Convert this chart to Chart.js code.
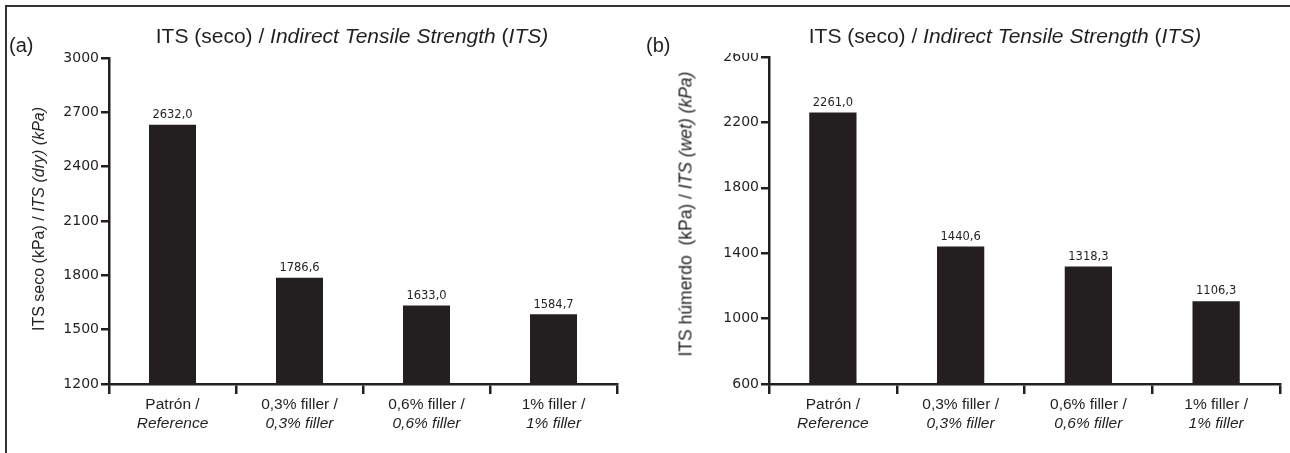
<!DOCTYPE html>
<html>
<head>
<meta charset="utf-8">
<script src="https://cdn.jsdelivr.net/npm/chart.js@4.4.0/dist/chart.umd.min.js"></script>
<style>
body{margin:0;background:#fff;width:1290px;height:453px;overflow:hidden;position:relative;font-family:"Liberation Sans",Arial,sans-serif;color:#231f20}
#frame{position:absolute;left:5px;top:5px;width:1300px;height:460px;border-top:2px solid #333;border-left:2px solid #333}
canvas{position:absolute;top:0}
.ttl{position:absolute;top:24px;font-size:21px;white-space:nowrap;transform:translateX(-50%)}
.tag{position:absolute;top:34px;font-size:20px}
.ytl{position:absolute;white-space:nowrap;transform:translate(-50%,-50%) rotate(-90deg)}
#cut{position:absolute;left:722px;top:44px;width:42px;height:9px;background:#fff}
</style>
</head>
<body>
<div id="frame"></div>
<canvas id="chartA" width="645" height="453" style="left:0"></canvas>
<canvas id="chartB" width="645" height="453" style="left:645px"></canvas>
<div id="cut"></div>

<div class="tag" style="left:9px">(a)</div>
<div class="tag" style="left:646px">(b)</div>
<div class="ttl" style="left:352px">ITS (seco) / <i>Indirect Tensile Strength</i> (<i>ITS)</i></div>
<div class="ttl" style="left:1005px">ITS (seco) / <i>Indirect Tensile Strength</i> (<i>ITS)</i></div>
<div class="ytl" style="left:39px;top:219px;font-size:16px">ITS seco (kPa) / <i>ITS (dry) (kPa)</i></div>
<div class="ytl" style="left:686px;top:214px;font-size:17.5px">ITS húmerdo&nbsp; (kPa) / <i>ITS (wet) (kPa)</i></div>

<script>
// datos
var catTop = ["Patrón /", "0,3% filler /", "0,6% filler /", "1% filler /"];
var catBottom = ["Reference", "0,3% filler", "0,6% filler", "1% filler"];
var itsDry = [2632.0, 1786.6, 1633.0, 1584.7];
var itsWet = [2261.0, 1440.6, 1318.3, 1106.3];
var dryTicks = [1200, 1500, 1800, 2100, 2400, 2700, 3000];
var wetTicks = [600, 1000, 1400, 1800, 2200, 2600];

var ink = '#231f20';

// etiquetas de valor y de categoria
var labelsPlugin = {
    id: 'labelsPlugin',
    afterDraw: function(chart) {
        var ctx = chart.ctx;
        var meta = chart.getDatasetMeta(0);
        var vals = chart.data.datasets[0].data;
        ctx.save();
        ctx.fillStyle = ink;
        ctx.textAlign = 'center';
        ctx.textBaseline = 'bottom';
        ctx.font = '11.5px "DejaVu Sans"';
        meta.data.forEach(function(bar, i) {
            ctx.fillText(vals[i].toFixed(1).replace('.', ','), bar.x, bar.y - 4);
        });
        var xs = chart.scales.x;
        ctx.textBaseline = 'middle';
        for (var i = 0; i < catTop.length; i++) {
            var x = xs.getPixelForValue(i);
            ctx.font = '15.5px "Liberation Sans", Arial';
            ctx.fillText(catTop[i], x, 405);
            ctx.font = 'italic 15.5px "Liberation Sans", Arial';
            ctx.fillText(catBottom[i], x, 424);
        }
        ctx.restore();
    }
};

function makeChart(id, values, ticks, yWidth, padTop, padRight) {
    var ctx = document.getElementById(id).getContext('2d');
    return new Chart(ctx, {
        type: 'bar',
        data: {
            labels: catTop,
            datasets: [{
                data: values,
                backgroundColor: ink,
                borderWidth: 0,
                barPercentage: 0.37,
                categoryPercentage: 1
            }]
        },
        options: {
            responsive: false,
            animation: false,
            layout: { padding: { left: 0, right: padRight, top: padTop, bottom: 59 } },
            plugins: { legend: { display: false }, tooltip: { enabled: false } },
            scales: {
                x: {
                    grid: { offset: true, drawOnChartArea: false, tickLength: 10, lineWidth: 2.5, color: ink },
                    border: { color: ink, width: 2.5 },
                    ticks: { display: false },
                    afterFit: function(s) { s.height = 10; }
                },
                y: {
                    min: ticks[0],
                    max: ticks[ticks.length - 1],
                    ticks: {
                        stepSize: ticks[1] - ticks[0],
                        color: ink,
                        padding: 2,
                        font: { family: '"DejaVu Sans"', size: 14 },
                        callback: function(v) { return String(v); }
                    },
                    grid: { drawOnChartArea: false, tickLength: 8, lineWidth: 2.5, color: ink },
                    border: { color: ink, width: 2.5 },
                    afterFit: function(s) { s.width = yWidth; }
                }
            }
        },
        plugins: [labelsPlugin]
    });
}

makeChart('chartA', itsDry, dryTicks, 109, 58, 28);
makeChart('chartB', itsWet, wetTicks, 124, 57, 10);
</script>
</body>
</html>
